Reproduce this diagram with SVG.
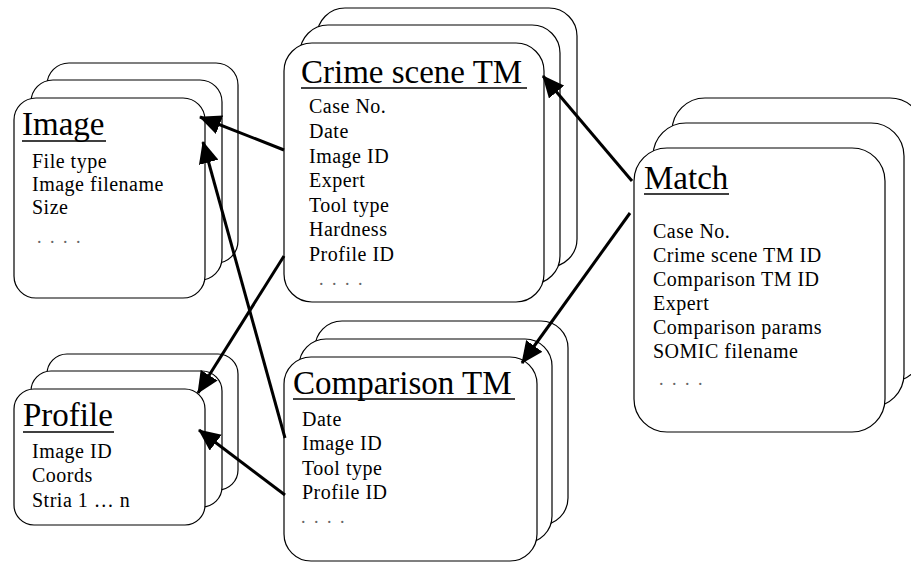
<svg xmlns="http://www.w3.org/2000/svg" width="911" height="562" viewBox="0 0 911 562">
  <style>
    .card { fill: #ffffff; stroke: #000000; stroke-width: 1.2; }
    .title { font-family: "Liberation Serif", "Times New Roman", serif; font-size: 33px; fill: #000000; }
    .item { font-family: "Liberation Serif", "Times New Roman", serif; font-size: 20px; fill: #000000; letter-spacing: 0.5px; }
    .dots { font-family: "Liberation Serif", "Times New Roman", serif; font-size: 18px; fill: #666666; letter-spacing: 2px; }
    .uline { stroke: #000000; stroke-width: 1.3; }
    .link { fill: none; stroke: #000000; stroke-width: 3; marker-end: url(#head); }
  </style>
  <defs>
    <marker id="head" viewBox="0 0 22 20" refX="21" refY="10" markerWidth="22" markerHeight="20" markerUnits="userSpaceOnUse" orient="auto">
      <path d="M0,0 L22,10 L0,20 Z" fill="#000000"/>
    </marker>
  </defs>

  <rect width="911" height="562" fill="#ffffff"/>

  <!-- Image record stack -->
  <g id="image">
    <rect class="card" x="47" y="63" width="191" height="200" rx="22" ry="22"/>
    <rect class="card" x="31" y="80" width="191" height="200" rx="22" ry="22"/>
    <rect class="card" x="14" y="98" width="191" height="200" rx="22" ry="22"/>
    <text class="title" x="22" y="135">Image</text>
    <line class="uline" x1="22" y1="141" x2="106" y2="141"/>
    <text class="item" x="32" y="168">File type</text>
    <text class="item" x="32" y="191">Image filename</text>
    <text class="item" x="32" y="214">Size</text>
    <text class="dots" x="37" y="243">. . . .</text>
  </g>

  <!-- Profile record stack -->
  <g id="profile">
    <rect class="card" x="47" y="354" width="191" height="136" rx="20" ry="20"/>
    <rect class="card" x="31" y="371" width="191" height="136" rx="20" ry="20"/>
    <rect class="card" x="14" y="389" width="191" height="136" rx="20" ry="20"/>
    <text class="title" x="23" y="426">Profile</text>
    <line class="uline" x1="23" y1="432" x2="114" y2="432"/>
    <text class="item" x="32" y="458">Image ID</text>
    <text class="item" x="32" y="482">Coords</text>
    <text class="item" x="32" y="507">Stria 1 … n</text>
  </g>

  <!-- Crime scene toolmark record stack -->
  <g id="crime-scene-tm">
    <rect class="card" x="317" y="8" width="260" height="259" rx="28" ry="28"/>
    <rect class="card" x="300" y="25" width="260" height="259" rx="28" ry="28"/>
    <rect class="card" x="284" y="43" width="260" height="259" rx="28" ry="28"/>
    <text class="title" x="301" y="83">Crime scene TM</text>
    <line class="uline" x1="301" y1="88" x2="527" y2="88"/>
    <text class="item" x="309" y="113">Case No.</text>
    <text class="item" x="309" y="138">Date</text>
    <text class="item" x="309" y="163">Image ID</text>
    <text class="item" x="309" y="187">Expert</text>
    <text class="item" x="309" y="212">Tool type</text>
    <text class="item" x="309" y="236">Hardness</text>
    <text class="item" x="309" y="261">Profile ID</text>
    <text class="dots" x="319" y="285">. . . .</text>
  </g>

  <!-- Comparison toolmark record stack -->
  <g id="comparison-tm">
    <rect class="card" x="315" y="321" width="253" height="204" rx="27" ry="27"/>
    <rect class="card" x="299" y="339" width="253" height="204" rx="27" ry="27"/>
    <rect class="card" x="284" y="357" width="253" height="204" rx="27" ry="27"/>
    <text class="title" x="293" y="394">Comparison TM</text>
    <line class="uline" x1="293" y1="399" x2="515" y2="399"/>
    <text class="item" x="302" y="426">Date</text>
    <text class="item" x="302" y="450">Image ID</text>
    <text class="item" x="302" y="475">Tool type</text>
    <text class="item" x="302" y="499">Profile ID</text>
    <text class="dots" x="301" y="523">. . . .</text>
  </g>

  <!-- Match record stack -->
  <g id="match">
    <rect class="card" x="672" y="98" width="251" height="284" rx="33" ry="33"/>
    <rect class="card" x="653" y="123" width="251" height="284" rx="33" ry="33"/>
    <rect class="card" x="634" y="148" width="251" height="284" rx="33" ry="33"/>
    <text class="title" x="644" y="189">Match</text>
    <line class="uline" x1="644" y1="194" x2="729" y2="194"/>
    <text class="item" x="653" y="238">Case No.</text>
    <text class="item" x="653" y="262">Crime scene TM ID</text>
    <text class="item" x="653" y="286">Comparison TM ID</text>
    <text class="item" x="653" y="310">Expert</text>
    <text class="item" x="653" y="334">Comparison params</text>
    <text class="item" x="653" y="358">SOMIC filename</text>
    <text class="dots" x="659" y="385">. . . .</text>
  </g>

  <!-- Reference links -->
  <g id="connectors">
    <line class="link" x1="284" y1="150" x2="200" y2="117"/>
    <line class="link" x1="285" y1="438" x2="203" y2="142"/>
    <line class="link" x1="284" y1="256" x2="198" y2="393"/>
    <line class="link" x1="285" y1="495" x2="199" y2="430"/>
    <line class="link" x1="632" y1="181" x2="543" y2="76"/>
    <line class="link" x1="630" y1="213" x2="522" y2="363"/>
  </g>
</svg>
